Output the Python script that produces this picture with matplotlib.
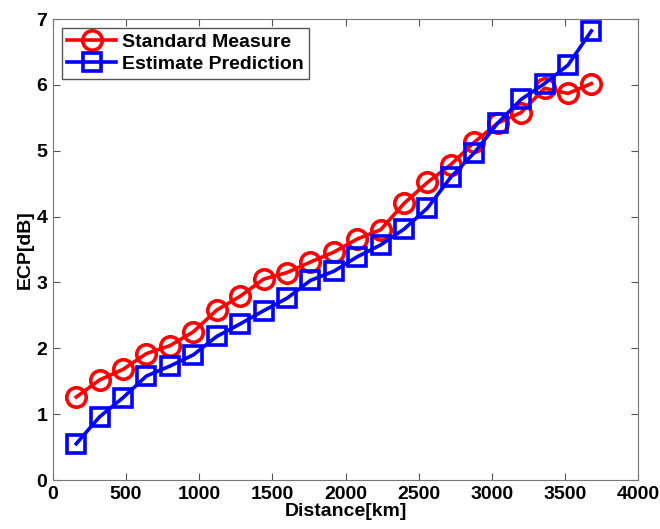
import numpy as np
import matplotlib
matplotlib.use("Agg")
import matplotlib.pyplot as plt

plt.rcParams['font.family'] = ['Liberation Sans', 'DejaVu Sans']
plt.rcParams['font.weight'] = 'bold'

# distance samples [km]
distance = [160, 320, 480, 640, 800, 960, 1120, 1280, 1440, 1600, 1760, 1920,
            2080, 2240, 2400, 2560, 2720, 2880, 3040, 3200, 3360, 3520, 3680]

# ECP values [dB]
standard = [1.26, 1.52, 1.68, 1.92, 2.04, 2.25, 2.58, 2.79, 3.05, 3.15, 3.31, 3.46,
            3.66, 3.80, 4.20, 4.52, 4.79, 5.13, 5.42, 5.58, 5.95, 5.87, 6.02]
estimate = [0.55, 0.96, 1.25, 1.58, 1.73, 1.90, 2.18, 2.37, 2.57, 2.76, 3.03, 3.17,
            3.39, 3.57, 3.81, 4.13, 4.60, 4.97, 5.42, 5.78, 6.02, 6.30, 6.82]

fig = plt.figure(figsize=(6.6, 5.29), dpi=100)
ax = fig.add_axes([0.080, 0.0926, 0.887, 0.8714])

ax.plot(distance, standard, '-o', color='#ff0000', lw=2.6, ms=14,
        mfc='none', mew=2.6, label='Standard Measure')
ax.plot(distance, estimate, '-s', color='#0000ff', lw=2.6, ms=12.5,
        mfc='none', mew=2.6, label='Estimate Prediction')

ax.set_xlim(0, 4000)
ax.set_ylim(0, 7)
ax.set_xticks(np.arange(0, 4001, 500))
ax.set_yticks(np.arange(0, 8, 1))
ax.tick_params(direction='in', top=True, right=True, length=5,
               labelsize=14, color='#555555', pad=4)
for s in ax.spines.values():
    s.set_color('#777777')

ax.set_xlabel('Distance[km]', fontsize=14, fontweight='bold', labelpad=0)
ax.set_ylabel('ECP[dB]', fontsize=14, fontweight='bold', labelpad=2)

leg = ax.legend(loc='upper left', fontsize=14, fancybox=False,
                edgecolor='#555555', framealpha=1, handlelength=2.5,
                borderaxespad=0.45, handletextpad=0.3, labelspacing=0.2,
                borderpad=0.3)
leg.get_frame().set_linewidth(1.0)

fig.savefig('out.png', dpi=100)
